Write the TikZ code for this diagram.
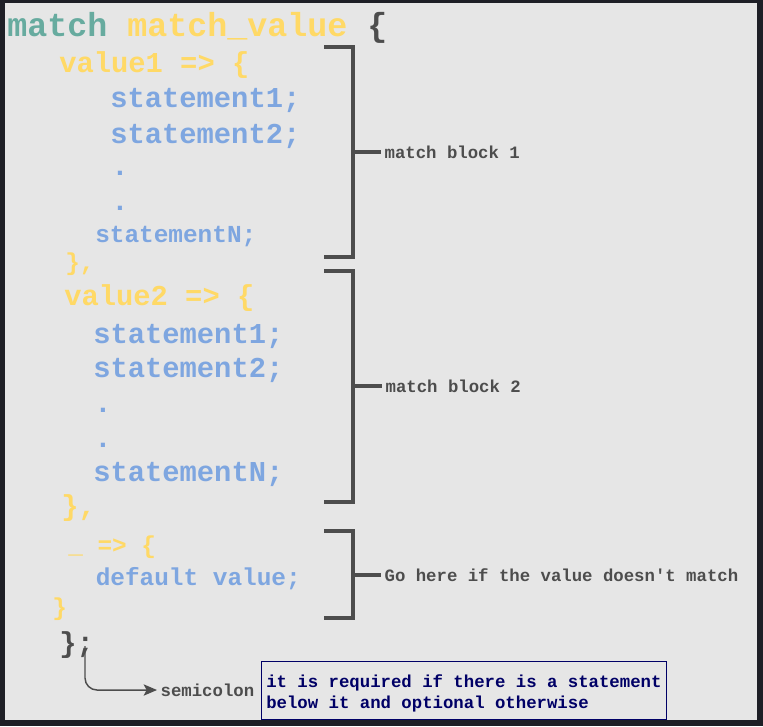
\documentclass[tikz,border=0pt]{standalone}
\usepackage{fontspec}
\setmonofont{Liberation Mono}
\usetikzlibrary{arrows.meta}
\definecolor{frame}{HTML}{1E1F26}
\definecolor{panel}{HTML}{E6E6E6}
\definecolor{kwteal}{HTML}{67AB9F}
\definecolor{kwyellow}{HTML}{FFD966}
\definecolor{kwblue}{HTML}{7EA6E0}
\definecolor{ink}{HTML}{4D4D4D}
\definecolor{navy}{HTML}{000066}
\begin{document}
\begin{tikzpicture}[x=0.75pt,y=-0.75pt,
  code/.style={anchor=base west,inner sep=0pt},
  huge/.style={font=\ttfamily\bfseries\fontsize{25}{30}\selectfont},
  large/.style={font=\ttfamily\bfseries\fontsize{21.6}{26}\selectfont},
  small/.style={font=\ttfamily\bfseries\fontsize{18.3}{22}\selectfont},
  yel/.style={text=kwyellow},
  blu/.style={text=kwblue},
  bracket/.style={draw=ink,line width=2.5pt,line join=miter},
  tick/.style={draw=ink,line width=2.5pt},
  note/.style={anchor=west,inner xsep=2.5pt,inner ysep=0pt,text=ink,
    font=\ttfamily\bfseries\fontsize{13}{15.75}\selectfont},
  boxtext/.style={anchor=base west,inner sep=0pt,text=navy,
    font=\ttfamily\bfseries\fontsize{13}{15.75}\selectfont},
]
\useasboundingbox (0,0) rectangle (763,726);
\fill[frame] (0,0) rectangle (763,726);
\fill[panel] (5,3) rectangle (757,720);

% match expression header
\node[code,huge] (head) at (7,36)
  {\textcolor{kwteal}{match} \textcolor{kwyellow}{match\_value} \textcolor{ink}{\{}};

% first arm
\node[code,large,yel] (v1) at (59,72) {value1 => \{};
\node[code,large,blu] (s11) at (110,107) {statement1;};
\node[code,large,blu] (s12) at (110,143) {statement2;};
\node[code,large,blu] (d11) at (111,175) {.};
\node[code,large,blu] (d12) at (111,210) {.};
\node[code,small,blu] (s1n) at (95,242) {statementN;};
\node[code,small,yel] (c1) at (65,270) {\},};

% second arm
\node[code,large,yel] (v2) at (64,305) {value2 => \{};
\node[code,large,blu] (s21) at (93,343) {statement1;};
\node[code,large,blu] (s22) at (93,377) {statement2;};
\node[code,large,blu] (d21) at (94,412) {.};
\node[code,large,blu] (d22) at (94,447) {.};
\node[code,large,blu] (s2n) at (93,481) {statementN;};
\node[code,large,yel] (c2) at (61,515) {\},};

% default arm
\node[code,small,yel] (dv) at (68,553) {\_ => \{};
\node[code,small,blu] (dd) at (95.5,585) {default value;};
\node[code,small,yel] (c3) at (52,615) {\}};
\node[code,large,text=ink] (close) at (59,652) {\};};

% brackets around the arms
\draw[bracket] (324,47) -| (353,257) -- (324,257);
\draw[bracket] (324,271) -| (353,502) -- (324,502);
\draw[bracket] (324,531) -| (353,618) -- (324,618);
\coordinate (b1) at (353,152);
\coordinate (b2) at (353,386);
\coordinate (b3) at (353,575);

\node[note] (l1) at (381,152) {match block 1};
\node[note] (l2) at (382,386) {match block 2};
\node[note] (l3) at (381,575) {Go here if the value doesn't match};
\draw[tick] (b1) -- (l1.west);
\draw[tick] (b2) -- (l2.west);
\draw[tick] (b3) -- (l3.west);

% semicolon callout
\coordinate (semi) at (85,646);
\node[note] (sl) at (157,690) {semicolon};
\draw[draw=ink,line width=1.1pt,rounded corners=9pt,
  -{Stealth[length=10pt,width=8.5pt,inset=2.2pt]}] (semi) |- (sl.west);

% note box
\node[anchor=north west,draw=navy,line width=1.1pt,fill=panel,
  minimum width=303.75pt,minimum height=43.5pt,inner sep=0pt] (box) at (261,661) {};
\node[boxtext] (n1) at (266,687) {it is required if there is a statement};
\node[boxtext] (n2) at (266,708) {below it and optional otherwise};
\end{tikzpicture}
\end{document}
